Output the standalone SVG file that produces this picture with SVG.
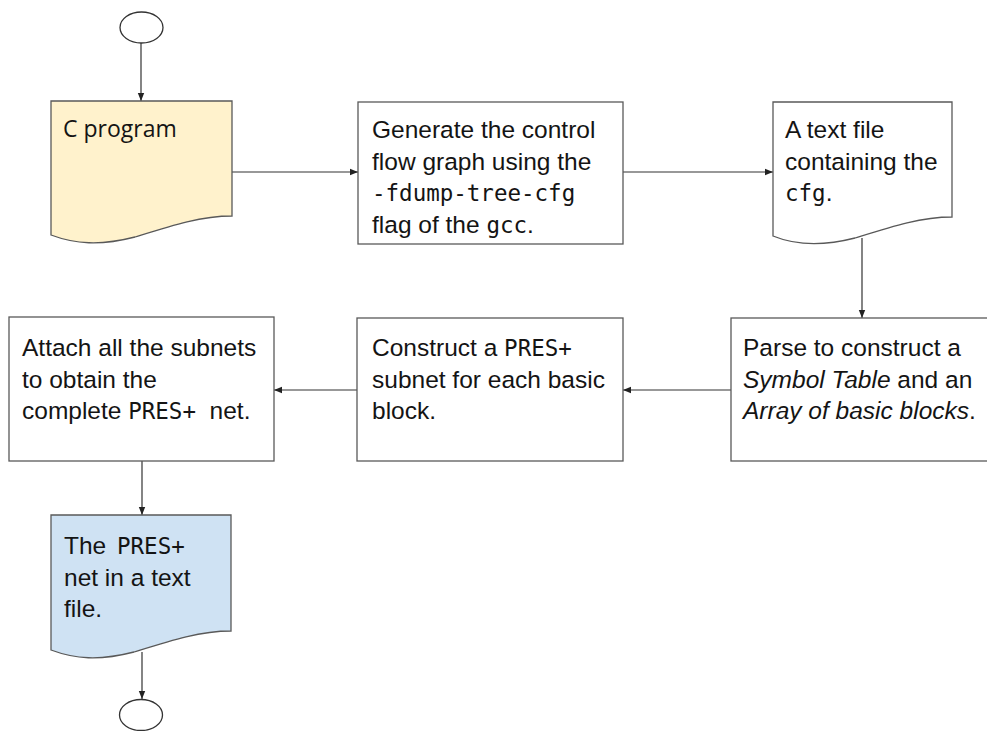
<svg xmlns="http://www.w3.org/2000/svg" width="987" height="731" viewBox="0 0 987 731">
  <style>
    .shape { stroke: #595959; stroke-width: 1.3; }
    .box { fill: #ffffff; }
    .term { fill: #ffffff; stroke: #333333; stroke-width: 1.3; }
    .yellow { fill: #fff2cc; }
    .blue { fill: #cfe2f3; }
    .edge { fill: none; stroke: #333333; stroke-width: 1.2; }
    text { font-family: "Liberation Sans", Arial, sans-serif; font-size: 24.5px; fill: #141414; }
    .mono { font-family: "DejaVu Sans Mono", "Liberation Mono", monospace; font-size: 22.5px; }
    .hum { font-family: "Open Sans", "Noto Sans", sans-serif; font-size: 23px; }
    .it { font-style: italic; }
  </style>
  <defs>
    <marker id="arrow" viewBox="0 0 8 8" refX="8" refY="4" markerWidth="8" markerHeight="8" markerUnits="userSpaceOnUse" orient="auto">
      <path d="M0,0.8 L8,4 L0,7.2 Z" fill="#222222"/>
    </marker>
  </defs>

  <!-- connectors -->
  <g id="connectors">
    <line class="edge" x1="141" y1="43" x2="141" y2="101" marker-end="url(#arrow)"/>
    <line class="edge" x1="232" y1="172" x2="358" y2="172" marker-end="url(#arrow)"/>
    <line class="edge" x1="623" y1="172" x2="773" y2="172" marker-end="url(#arrow)"/>
    <line class="edge" x1="862" y1="238" x2="862" y2="318" marker-end="url(#arrow)"/>
    <line class="edge" x1="731" y1="390" x2="623" y2="390" marker-end="url(#arrow)"/>
    <line class="edge" x1="357" y1="390" x2="274" y2="390" marker-end="url(#arrow)"/>
    <line class="edge" x1="142" y1="461" x2="142" y2="515" marker-end="url(#arrow)"/>
    <line class="edge" x1="142" y1="652" x2="142" y2="699" marker-end="url(#arrow)"/>
  </g>

  <!-- start terminal -->
  <g id="start">
    <ellipse class="term" cx="141.5" cy="27.5" rx="21.5" ry="15.5"/>
  </g>

  <!-- source document -->
  <g id="c-program">
    <path class="shape yellow" d="M51,101 H232 V216 C200,216 170,226 135,237 C100,246 75,244 51,235 Z"/>
    <text class="hum" x="63" y="137">C program</text>
  </g>

  <!-- gcc step -->
  <g id="generate-cfg">
    <rect class="shape box" x="358" y="102" width="265" height="142"/>
    <text x="372" y="138">Generate the control</text>
    <text x="372" y="169.5">flow graph using the</text>
    <text x="372" y="201"><tspan class="mono">-fdump-tree-cfg</tspan></text>
    <text x="372" y="232.5">flag of the <tspan class="mono">gcc</tspan>.</text>
  </g>

  <!-- cfg dump document -->
  <g id="cfg-file">
    <path class="shape box" d="M773,102 H952 V217 C920,217 890,227 855,238 C820,247 795,245 773,236 Z"/>
    <text x="785" y="138">A text file</text>
    <text x="785" y="169.5">containing the</text>
    <text x="785" y="201"><tspan class="mono">cfg</tspan>.</text>
  </g>

  <!-- parser -->
  <g id="parse">
    <rect class="shape box" x="731" y="318" width="260" height="143"/>
    <text x="743" y="356">Parse to construct a</text>
    <text x="743" y="387.5"><tspan class="it">Symbol Table</tspan> and an</text>
    <text x="743" y="419"><tspan class="it">Array of basic blocks</tspan>.</text>
  </g>

  <!-- subnet construction -->
  <g id="construct">
    <rect class="shape box" x="357" y="318" width="266" height="143"/>
    <text x="372" y="356">Construct a <tspan class="mono">PRES+</tspan></text>
    <text x="372" y="387.5">subnet for each basic</text>
    <text x="372" y="419">block.</text>
  </g>

  <!-- subnet assembly -->
  <g id="attach">
    <rect class="shape box" x="9" y="317" width="265" height="144"/>
    <text x="22" y="356">Attach all the subnets</text>
    <text x="22" y="387.5">to obtain the</text>
    <text x="22" y="419" xml:space="preserve">complete <tspan class="mono">PRES+</tspan>  net.</text>
  </g>

  <!-- output document -->
  <g id="pres-file">
    <path class="shape blue" d="M51,515 H231 V631 C199,631 169,641 134,652 C99,661 75,659 51,650 Z"/>
    <text x="64" y="554">The <tspan class="mono" dx="4">PRES+</tspan></text>
    <text x="64" y="585.5">net in a text</text>
    <text x="64" y="617">file.</text>
  </g>

  <!-- end terminal -->
  <g id="end">
    <ellipse class="term" cx="141" cy="715" rx="21.5" ry="15.5"/>
  </g>
</svg>
